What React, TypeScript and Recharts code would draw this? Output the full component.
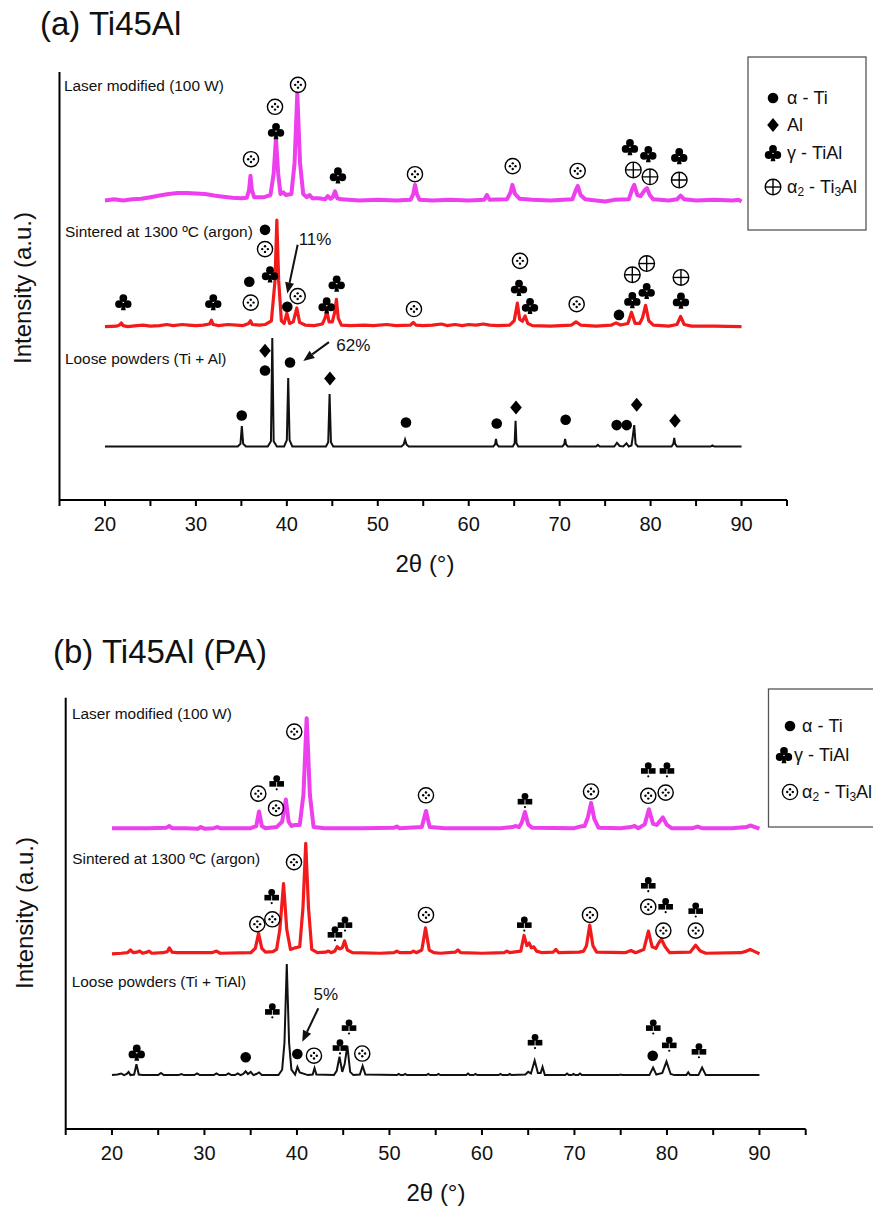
import React from 'react';
import { ComposedChart, Line, Scatter, XAxis, YAxis, ReferenceLine } from 'recharts';

type P = [number, number];
const FONT = '"Liberation Sans", Arial, Helvetica, sans-serif';

// ---------- (a) Ti45Al traces [2θ, intensity offset] ----------
const laserA: P[] = [[20,5.6],[21,5.62],[22,5.6],[23,5.62],[24,5.63],[25,5.66],[26,5.69],[27,5.72],[28,5.74],[29,5.74],[30,5.73],[31,5.72],[32,5.69],[33,5.67],[34,5.65],[35,5.64],[35.6,5.65],[35.85,5.8],[36.0,6.06],[36.15,5.8],[36.4,5.66],[37.5,5.66],[38.2,5.7],[38.55,6.1],[38.8,6.76],[39.05,6.1],[39.3,5.72],[39.6,5.75],[39.9,5.7],[40.5,5.72],[40.85,6.3],[41.15,7.6],[41.45,6.3],[41.8,5.72],[42.2,5.66],[42.5,5.7],[42.8,5.64],[43.5,5.64],[44.2,5.62],[44.5,5.68],[44.8,5.63],[45.05,5.66],[45.3,5.77],[45.55,5.64],[46,5.62],[48,5.6],[50,5.61],[52,5.6],[53.6,5.61],[53.9,5.72],[54.1,5.89],[54.3,5.72],[54.6,5.61],[56,5.6],[58,5.61],[60,5.6],[61.7,5.61],[62.0,5.7],[62.3,5.61],[64.2,5.62],[64.6,5.75],[64.8,5.89],[65.1,5.72],[65.6,5.63],[67,5.61],[69,5.6],[71.4,5.62],[71.8,5.8],[72.0,5.87],[72.3,5.7],[72.8,5.62],[74,5.6],[75,5.58],[76,5.61],[77.6,5.62],[78.0,5.82],[78.2,5.89],[78.55,5.7],[78.9,5.68],[79.3,5.78],[79.6,5.83],[79.9,5.7],[80.3,5.62],[82,5.6],[82.9,5.62],[83.3,5.69],[83.7,5.62],[85,5.6],[87,5.61],[89,5.6],[89.7,5.61],[90,5.58]];
const sinterA: P[] = [[20,3.24],[21.3,3.25],[21.6,3.27],[21.8,3.31],[22.0,3.26],[22.5,3.24],[23.5,3.26],[24.2,3.27],[25,3.25],[26,3.26],[26.8,3.28],[27.5,3.26],[28.5,3.28],[29.2,3.27],[30,3.26],[30.8,3.27],[31.5,3.29],[31.7,3.36],[31.9,3.28],[32.5,3.26],[33.5,3.28],[34.5,3.27],[35.2,3.26],[35.8,3.3],[36.0,3.35],[36.2,3.28],[37,3.27],[37.6,3.28],[38.3,3.35],[38.7,4.1],[38.9,5.23],[39.1,4.1],[39.4,3.35],[39.7,3.3],[40.0,3.49],[40.3,3.3],[40.7,3.33],[41.1,3.59],[41.4,3.32],[42,3.27],[43,3.26],[43.9,3.29],[44.15,3.38],[44.4,3.52],[44.65,3.33],[45.0,3.33],[45.25,3.5],[45.45,3.75],[45.65,3.4],[46.0,3.27],[47,3.26],[48.5,3.27],[49.5,3.26],[51,3.28],[52,3.26],[53.6,3.27],[53.9,3.32],[54.2,3.27],[55,3.26],[56,3.27],[57,3.29],[57.6,3.26],[58.5,3.28],[59.3,3.26],[60,3.28],[60.8,3.27],[61.6,3.29],[62.3,3.27],[63.2,3.26],[64.5,3.27],[65.0,3.35],[65.35,3.68],[65.6,3.38],[65.9,3.34],[66.2,3.44],[66.5,3.3],[67,3.26],[69,3.25],[71.3,3.27],[71.8,3.33],[72.3,3.27],[74,3.25],[75.7,3.27],[76.2,3.31],[76.7,3.27],[77.5,3.3],[77.9,3.51],[78.3,3.3],[78.8,3.3],[79.1,3.4],[79.45,3.64],[79.8,3.35],[80.3,3.27],[82,3.25],[82.9,3.28],[83.3,3.43],[83.7,3.28],[84.5,3.25],[87,3.25],[90,3.24]];
const looseA: P[] = [[20,1],[34.6,1],[34.9,1.05],[35.05,1.38],[35.2,1.05],[35.5,1],[37.9,1],[38.25,1.1],[38.4,3.03],[38.55,1.1],[38.9,1],[39.7,1],[40.0,1.12],[40.15,2.28],[40.3,1.12],[40.6,1],[44.3,1],[44.55,1.08],[44.7,1.98],[44.85,1.08],[45.1,1],[52.6,1],[52.85,1.04],[53.0,1.13],[53.15,1.04],[53.4,1],[62.7,1],[62.9,1.04],[63.0,1.14],[63.1,1.04],[63.3,1],[64.85,1],[65.05,1.06],[65.15,1.48],[65.25,1.06],[65.45,1],[70.3,1],[70.5,1.04],[70.6,1.14],[70.7,1.04],[70.9,1],[74.0,1],[74.2,1.03],[74.4,1],[76.0,1],[76.3,1.07],[76.6,1.01],[77.0,1.0],[77.35,1.06],[77.6,1.0],[77.9,1.02],[78.05,1.2],[78.2,1.4],[78.35,1.05],[78.6,1],[82.3,1],[82.5,1.05],[82.6,1.16],[82.7,1.05],[82.9,1],[86.6,1],[86.8,1.02],[87.0,1],[90,1]];

// ---------- (b) Ti45Al (PA) traces ----------
const laserB: P[] = [[20,5.58],[24,5.58],[25.9,5.59],[26.2,5.62],[26.5,5.58],[28,5.58],[29.3,5.57],[29.6,5.6],[30,5.57],[31,5.58],[31.4,5.6],[31.7,5.58],[35,5.58],[35.6,5.62],[35.9,5.89],[36.2,5.62],[36.6,5.58],[37.8,5.6],[38.4,5.7],[38.8,6.11],[39.1,5.7],[39.4,5.62],[39.8,5.64],[40.3,5.64],[40.7,6.2],[41.05,7.62],[41.4,6.2],[41.8,5.6],[43,5.58],[47,5.58],[50.5,5.59],[50.8,5.61],[51.1,5.58],[53.5,5.6],[53.95,5.9],[54.35,5.6],[56,5.58],[62,5.58],[63.3,5.6],[63.6,5.62],[64.0,5.6],[64.3,5.68],[64.65,5.88],[65.0,5.65],[65.4,5.59],[70,5.58],[70.6,5.61],[71.1,5.62],[71.45,5.78],[71.8,6.05],[72.15,5.75],[72.6,5.59],[75,5.58],[76.1,5.6],[76.5,5.62],[76.9,5.58],[77.6,5.65],[78.05,5.93],[78.5,5.66],[78.9,5.64],[79.55,5.78],[80.0,5.64],[80.5,5.58],[82.8,5.58],[83.3,5.61],[83.8,5.58],[87,5.58],[88.6,5.6],[89.0,5.63],[89.5,5.6],[90,5.57]];
const sinterB: P[] = [[20,3.25],[21,3.26],[21.7,3.27],[22.0,3.32],[22.3,3.27],[22.7,3.28],[23.0,3.3],[23.3,3.26],[23.8,3.28],[24.0,3.3],[24.3,3.26],[25.5,3.27],[26.0,3.29],[26.2,3.36],[26.5,3.28],[27,3.27],[29,3.27],[30.8,3.27],[31.3,3.3],[31.7,3.26],[35,3.27],[35.5,3.35],[35.85,3.63],[36.2,3.35],[36.6,3.28],[37.4,3.29],[37.8,3.33],[38.15,3.7],[38.55,4.55],[38.9,3.7],[39.3,3.33],[39.8,3.36],[40.3,3.38],[40.65,4.1],[40.95,5.3],[41.25,4.1],[41.6,3.33],[42.2,3.27],[43.1,3.28],[43.4,3.3],[43.7,3.27],[44.1,3.3],[44.35,3.38],[44.6,3.34],[44.9,3.36],[45.15,3.49],[45.45,3.32],[46,3.27],[49,3.26],[50.5,3.27],[50.8,3.3],[51.1,3.27],[52.3,3.27],[52.6,3.3],[52.9,3.27],[53.5,3.32],[53.9,3.73],[54.3,3.32],[54.8,3.27],[55.5,3.26],[57.1,3.28],[57.4,3.32],[57.7,3.27],[60,3.26],[62.4,3.27],[62.7,3.3],[63,3.27],[64.2,3.3],[64.55,3.59],[64.85,3.4],[65.1,3.45],[65.35,3.36],[65.6,3.38],[65.9,3.3],[66.5,3.27],[67.7,3.28],[68.0,3.33],[68.3,3.27],[70.5,3.28],[71.0,3.3],[71.3,3.4],[71.65,3.78],[72.0,3.4],[72.4,3.28],[75.5,3.27],[76.1,3.31],[76.6,3.27],[77.5,3.33],[78.0,3.67],[78.4,3.38],[78.8,3.35],[79.1,3.45],[79.4,3.52],[79.8,3.38],[80.3,3.27],[82.5,3.28],[83.1,3.41],[83.6,3.3],[84.2,3.26],[88,3.27],[88.6,3.3],[89.0,3.33],[89.5,3.29],[90,3.25]];
const looseB: P[] = [[20,1],[20.6,1.01],[21.0,1.03],[21.3,1],[21.6,1.02],[21.8,1.06],[22.0,1],[22.4,1.01],[22.65,1.2],[22.9,1.01],[23.3,1.0],[25.0,1.0],[25.3,1.04],[25.6,1],[27.2,1],[27.5,1.02],[27.8,1],[28.9,1],[29.2,1.03],[29.5,1],[31.0,1],[31.3,1.03],[31.6,1],[32.3,1],[32.6,1.03],[32.9,1],[33.3,1],[33.6,1.03],[33.9,1],[34.2,1.02],[34.45,1.07],[34.7,1.02],[35.0,1.06],[35.3,1.0],[35.6,1.02],[35.9,1.05],[36.2,1.0],[38.0,1.0],[38.4,1.1],[38.65,1.6],[38.9,3.06],[39.15,1.6],[39.4,1.1],[39.8,1.01],[40.05,1.15],[40.3,1.05],[41.2,1.0],[41.7,1.01],[41.9,1.13],[42.1,1.01],[44.0,1.0],[44.3,1.08],[44.6,1.34],[44.9,1.06],[45.15,1.2],[45.45,1.54],[45.75,1.06],[46.1,1.0],[46.8,1.01],[47.1,1.17],[47.4,1.01],[50.8,1.0],[51.0,1.02],[51.2,1],[51.5,1],[51.7,1.02],[51.9,1],[54,1],[54.2,1.02],[54.4,1],[55.1,1],[55.3,1.02],[55.5,1],[58.3,1],[58.5,1.03],[58.7,1],[59.1,1],[59.3,1.02],[59.5,1],[61.8,1],[62.0,1.02],[62.2,1],[62.8,1],[63.0,1.02],[63.2,1],[64.7,1.01],[65.0,1.06],[65.3,1.03],[65.7,1.27],[66.05,1.04],[66.35,1.04],[66.55,1.15],[66.8,1.0],[69.0,1.0],[69.2,1.03],[69.4,1.0],[69.7,1.0],[69.9,1.02],[70.1,1],[70.4,1.0],[70.6,1.03],[70.8,1.0],[74.8,1],[75.0,1.01],[75.2,1],[78.1,1.0],[78.5,1.14],[78.85,1.01],[79.5,1.04],[79.95,1.25],[80.4,1.02],[80.8,1.0],[82.1,1.0],[82.3,1.05],[82.5,1],[83.4,1.0],[83.8,1.14],[84.2,1.0],[90,1]];

// ---------- phase markers [2θ, y, symbol] ----------
type M = [number, number, string];
const marksA: M[] = [
  [36.06,6.37,'a2'],[38.81,6.9,'club'],[38.7,7.35,'a2'],[41.23,7.76,'a2'],[45.62,6.07,'club'],[54.09,6.09,'a2'],[64.84,6.24,'a2'],[71.98,6.15,'a2'],[77.73,6.6,'club'],[78.1,6.17,'plus'],[79.75,6.47,'club'],[79.93,6.04,'plus'],[83.15,6.43,'club'],[83.15,5.98,'plus'],
  [37.6,5.05,'dot'],[37.6,4.69,'a2'],[38.15,4.22,'club'],[35.87,4.08,'dot'],[36.03,3.69,'a2'],[22.02,3.7,'club'],[31.91,3.7,'club'],[40.05,3.61,'dot'],[41.19,3.81,'a2'],[44.38,3.64,'club'],[45.48,4.05,'club'],[53.98,3.57,'a2'],[65.64,4.47,'a2'],[65.53,3.97,'club'],[66.74,3.63,'club'],[71.87,3.66,'a2'],[76.52,3.46,'dot'],[77.99,3.74,'club'],[77.99,4.21,'plus'],[79.57,3.91,'club'],[79.57,4.42,'plus'],[83.34,3.73,'club'],[83.34,4.16,'plus'],
  [37.6,2.79,'dia'],[37.6,2.42,'dot'],[40.35,2.57,'dot'],[44.74,2.27,'dia'],[35.04,1.58,'dot'],[53.1,1.45,'dot'],[63.08,1.43,'dot'],[65.2,1.73,'dia'],[70.66,1.5,'dot'],[76.27,1.4,'dot'],[77.37,1.4,'dot'],[78.47,1.78,'dia'],[82.68,1.48,'dia'],
];
const marksB: M[] = [
  [39.71,7.37,'a2'],[37.81,6.42,'clubB'],[35.82,6.22,'a2'],[37.74,5.95,'a2'],[53.95,6.19,'a2'],[64.65,6.09,'clubB'],[71.79,6.26,'a2'],[77.98,6.18,'a2'],[79.86,6.24,'a2'],[77.98,6.66,'clubB'],[80.0,6.66,'clubB'],
  [39.68,4.95,'a2'],[37.27,4.31,'clubB'],[37.34,3.89,'a2'],[35.71,3.8,'a2'],[44.11,3.62,'clubB'],[45.19,3.8,'clubB'],[53.95,3.97,'a2'],[64.58,3.8,'clubB'],[71.68,3.97,'a2'],[77.98,4.53,'clubB'],[77.98,4.12,'a2'],[79.86,4.14,'clubB'],[79.61,3.68,'a2'],[83.11,4.06,'clubB'],[83.11,3.68,'a2'],
  [22.68,1.42,'club'],[34.46,1.33,'dot'],[37.34,2.19,'clubB'],[40.04,1.39,'dot'],[41.84,1.36,'a2'],[44.65,1.52,'clubB'],[45.63,1.89,'clubB'],[47.06,1.4,'a2'],[65.74,1.62,'clubB'],[78.52,1.89,'clubB'],[78.46,1.36,'dot'],[80.25,1.57,'clubB'],[83.46,1.45,'clubB'],
];

// ---------- text annotations [2θ, y, text, kind] ----------
type T = [number, number, string, string];
const textsA: T[] = [
  [15.49,7.74,'Laser modified (100 W)','lab'],[15.6,5.01,'Sintered at 1300 ºC (argon)','lab'],[15.6,2.65,'Loose powders (Ti + Al)','lab'],
  [43.1,4.87,'11%','pct'],[47.31,2.88,'62%','pct'],
];
const textsB: T[] = [
  [15.68,7.71,'Laser modified (100 W)','lab'],[15.71,5.01,'Sintered at 1300 ºC (argon)','lab'],[15.65,2.73,'Loose powders (Ti + TiAl)','lab'],
  [43.11,2.5,'5%','pct'],
];
// arrows [x1,y1,x2,y2]
const arrowsA = [[41.19,4.77,40.05,3.86],[44.63,2.95,41.81,2.6]];
const arrowsB = [[42.31,2.24,40.58,1.62]];

const xTicks = [15,20,25,30,35,40,45,50,55,60,65,70,75,80,85,90,95];
const yTicks = [0,1,2,3,4,5,6,7,8];
const legendA = [['dot','α - Ti'],['dia','Al'],['club','γ - TiAl'],['plus','α2 - Ti3Al']];
const legendB = [['dot','α - Ti'],['club','γ - TiAl'],['a2','α2 - Ti3Al']];

const toPts = (a: P[]) => a.map(([x, y]) => ({ x, y }));
const toMarks = (a: M[]) => a.map(([x, y, s]) => ({ x, y, s }));
const toTexts = (a: T[]) => a.map(([x, y, t, k]) => ({ x, y, t, k }));

const Sym = ({ s, cx, cy }: { s: string; cx: number; cy: number }) => {
  switch (s) {
    case 'dot':
      return <circle cx={cx} cy={cy} r={5.3} fill="#000" />;
    case 'dia':
      return <path d={`M${cx},${cy - 7} L${cx + 5.8},${cy} L${cx},${cy + 7} L${cx - 5.8},${cy} Z`} fill="#000" />;
    case 'club':
      return (
        <g transform={`translate(${cx},${cy})`} fill="#000">
          <circle cx={0} cy={-4} r={3.9} />
          <circle cx={-4.3} cy={2} r={3.9} />
          <circle cx={4.3} cy={2} r={3.9} />
          <path d="M-0.9,1 L0.9,1 L2.4,8.3 L-2.4,8.3 Z" />
        </g>
      );
    case 'clubB':
      return (
        <g transform={`translate(${cx},${cy})`} fill="#000">
          <circle cx={0} cy={-4.3} r={3.4} />
          <rect x={-7.3} y={-1.8} width={6.9} height={5.6} />
          <rect x={0.4} y={-1.8} width={6.9} height={5.6} />
          <circle cx={0} cy={6.4} r={1.1} />
        </g>
      );
    case 'a2':
      return (
        <g transform={`translate(${cx},${cy})`}>
          <circle r={7.6} fill="none" stroke="#000" strokeWidth={1.4} />
          <circle cx={0} cy={-2.8} r={1.2} fill="#000" />
          <circle cx={0} cy={2.8} r={1.2} fill="#000" />
          <circle cx={-2.8} cy={0} r={1.2} fill="#000" />
          <circle cx={2.8} cy={0} r={1.2} fill="#000" />
        </g>
      );
    case 'plus':
      return (
        <g transform={`translate(${cx},${cy})`} stroke="#000" strokeWidth={1.4} fill="none">
          <circle r={7.8} />
          <line x1={-7.8} y1={0} x2={7.8} y2={0} />
          <line x1={0} y1={-7.8} x2={0} y2={7.8} />
        </g>
      );
    default:
      return null;
  }
};

const markShape = (p: any) => <Sym s={p.payload.s} cx={p.cx} cy={p.cy} />;
const textShape = (p: any) => {
  const { t, k } = p.payload;
  if (k === 'lab')
    return (
      <text x={p.cx} y={p.cy} dominantBaseline="central" textAnchor="start" fontSize={15.4} fontFamily={FONT} fill="#111">
        {t}
      </text>
    );
  return (
    <text x={p.cx} y={p.cy} dominantBaseline="central" textAnchor="middle" fontSize={17} fontFamily={FONT} fill="#111">
      {t}
    </text>
  );
};
const arrowShape = (p: any) => {
  const { x1, y1, x2, y2 } = p;
  const a = Math.atan2(y2 - y1, x2 - x1);
  const L = 11, W = 4.5;
  const bx = x2 - L * Math.cos(a), by = y2 - L * Math.sin(a);
  const px = -Math.sin(a) * W, py = Math.cos(a) * W;
  return (
    <g>
      <line x1={x1} y1={y1} x2={bx} y2={by} stroke="#111" strokeWidth={2} />
      <path d={`M${x2},${y2} L${bx + px},${by + py} L${bx - px},${by - py} Z`} fill="#111" />
    </g>
  );
};

const fmtX = (v: number) => (v % 10 === 0 && v >= 20 && v <= 90 ? String(v) : '');

const Panel = ({ width, height, margin, laser, sinter, loose, marks, texts, arrows }: any) => (
  <ComposedChart width={width} height={height} margin={margin}>
    <XAxis
      type="number" dataKey="x" domain={[15, 95]} ticks={xTicks} interval={0} tickFormatter={fmtX}
      tickSize={6} tickMargin={11} height={30} allowDataOverflow
      axisLine={{ stroke: '#000', strokeWidth: 2 }} tickLine={{ stroke: '#000', strokeWidth: 2 }}
      tick={{ fill: '#111', fontSize: 20, fontFamily: FONT }}
    />
    <YAxis
      type="number" dataKey="y" domain={[0, 8]} ticks={yTicks} interval={0} tick={false}
      tickSize={12} width={50} allowDataOverflow
      axisLine={{ stroke: '#000', strokeWidth: 2 }} tickLine={{ stroke: '#000', strokeWidth: 2 }}
    />
    <Line data={toPts(loose)} dataKey="y" type="linear" stroke="#111" strokeWidth={2} dot={false} isAnimationActive={false} />
    <Line data={toPts(sinter)} dataKey="y" type="linear" stroke="#f21a1a" strokeWidth={3.2} dot={false} strokeLinejoin="round" isAnimationActive={false} />
    <Line data={toPts(laser)} dataKey="y" type="linear" stroke="#ee3fee" strokeWidth={4} dot={false} strokeLinejoin="round" isAnimationActive={false} />
    <Scatter data={toMarks(marks)} dataKey="y" shape={markShape} isAnimationActive={false} />
    <Scatter data={toTexts(texts)} dataKey="y" shape={textShape} isAnimationActive={false} />
    {arrows.map((a: number[], i: number) => (
      <ReferenceLine key={i} segment={[{ x: a[0], y: a[1] }, { x: a[2], y: a[3] }]} shape={arrowShape} ifOverflow="visible" />
    ))}
  </ComposedChart>
);

const Alpha2Text = ({ x, y, label }: { x: number; y: number; label: string }) => {
  if (label === 'α2 - Ti3Al')
    return (
      <text x={x} y={y} dominantBaseline="central" fontSize={18} fontFamily={FONT} fill="#111">
        α<tspan fontSize={12} dy={5}>2</tspan>
        <tspan dy={-5}> - Ti</tspan>
        <tspan fontSize={12} dy={5}>3</tspan>
        <tspan dy={-5}>Al</tspan>
      </text>
    );
  return (
    <text x={x} y={y} dominantBaseline="central" fontSize={18} fontFamily={FONT} fill="#111">
      {label}
    </text>
  );
};

export default function App() {
  const legAY = [98, 125, 153, 187];
  const legBY = [726, 755, 792];
  return (
    <div style={{ position: 'absolute', left: 0, top: 0, width: 873, height: 1208, background: '#fff', overflow: 'hidden' }}>
      <div style={{ position: 'absolute', left: 0, top: 0 }}>
        <Panel width={873} height={600} margin={{ top: 72, right: 86, bottom: 70, left: 9.5 }}
          laser={laserA} sinter={sinterA} loose={looseA} marks={marksA} texts={textsA} arrows={arrowsA} />
      </div>
      <div style={{ position: 'absolute', left: 0, top: 600 }}>
        <Panel width={873} height={608} margin={{ top: 97.7, right: 67.3, bottom: 49, left: 15.7 }}
          laser={laserB} sinter={sinterB} loose={looseB} marks={marksB} texts={textsB} arrows={arrowsB} />
      </div>
      <svg width={873} height={1208} style={{ position: 'absolute', left: 0, top: 0, pointerEvents: 'none' }}>
        <text x={40} y={35} fontSize={33} fontFamily={FONT} fill="#111">(a) Ti45Al</text>
        <text x={53} y={663} fontSize={33} fontFamily={FONT} fill="#111">(b) Ti45Al (PA)</text>
        <text x={425} y={572} fontSize={24} fontFamily={FONT} fill="#111" textAnchor="middle">2θ (°)</text>
        <text x={436} y={1201} fontSize={24} fontFamily={FONT} fill="#111" textAnchor="middle">2θ (°)</text>
        <text transform="translate(22,288) rotate(-90)" fontSize={24} fontFamily={FONT} fill="#111" textAnchor="middle" dominantBaseline="central">Intensity (a.u.)</text>
        <text transform="translate(24,913) rotate(-90)" fontSize={24} fontFamily={FONT} fill="#111" textAnchor="middle" dominantBaseline="central">Intensity (a.u.)</text>
        <rect x={748} y={57} width={118} height={173} fill="#fff" stroke="#555" strokeWidth={1.3} />
        {legendA.map(([s, l], i) => (
          <g key={l}>
            <Sym s={s} cx={773} cy={legAY[i]} />
            <Alpha2Text x={787} y={legAY[i]} label={l} />
          </g>
        ))}
        <rect x={768.5} y={689} width={130} height={138} fill="#fff" stroke="#555" strokeWidth={1.3} />
        {legendB.map(([s, l], i) => (
          <g key={l}>
            <Sym s={s} cx={i === 1 ? 784 : 790} cy={legBY[i]} />
            <Alpha2Text x={i === 1 ? 794 : 802} y={legBY[i]} label={l} />
          </g>
        ))}
      </svg>
    </div>
  );
}
